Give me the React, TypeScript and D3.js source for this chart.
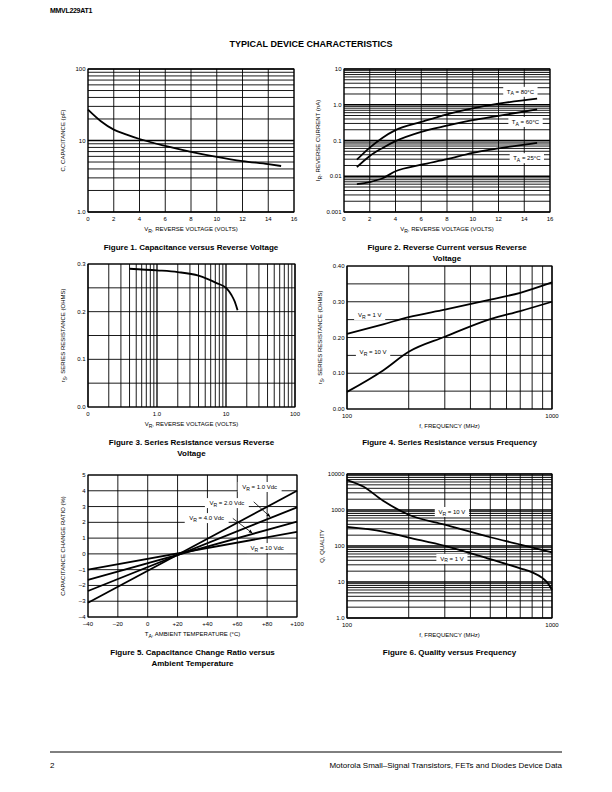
import * as d3 from 'd3';

const FONT = "'Liberation Sans', Arial, Helvetica, sans-serif";

// ---- Figure 1: capacitance vs reverse voltage
const F1_VR = [0, 1, 2, 3, 4, 6, 8, 10, 12, 14, 15];
const F1_C = [27, 18.6, 14.2, 12.1, 10.5, 8.4, 6.95, 5.9, 5.15, 4.67, 4.4];
const F1_XTICKS = [0, 2, 4, 6, 8, 10, 12, 14, 16];
const F1_YTICKS = [100, 10, 1];
const F1_YLABELS = ['100', '10', '1.0'];

// ---- Figure 2: reverse current vs reverse voltage
const F2_VR = [1, 2, 3, 4, 6, 8, 10, 12, 15];
const F2_I80 = [0.029, 0.063, 0.12, 0.195, 0.33, 0.54, 0.79, 1.07, 1.48];
const F2_I60 = [0.018, 0.037, 0.062, 0.096, 0.175, 0.26, 0.37, 0.49, 0.74];
const F2_I25 = [0.006, 0.0069, 0.0088, 0.0138, 0.021, 0.03, 0.045, 0.06, 0.086];
const F2_XTICKS = [0, 2, 4, 6, 8, 10, 12, 14, 16];
const F2_YTICKS = [10, 1, 0.1, 0.01, 0.001];
const F2_YLABELS = ['10', '1.0', '0.1', '0.01', '0.001'];

// ---- Figure 3: series resistance vs reverse voltage
const F3_VR = [0.4, 1, 2, 4, 7.3, 10.2, 12, 13.4, 14.7];
const F3_RS = [0.29, 0.2866, 0.283, 0.2755, 0.26, 0.249, 0.235, 0.221, 0.203];
const F3_XTICKS = [0.1, 1, 10, 100];
const F3_XLABELS = ['0', '1.0', '10', '100'];
const F3_YTICKS = [0.3, 0.2, 0.1, 0];
const F3_YLABELS = ['0.3', '0.2', '0.1', '0.0'];

// ---- Figure 4: series resistance vs frequency
const F4_F = [100, 150, 200, 300, 500, 700, 1000];
const F4_R1 = [0.21, 0.237, 0.257, 0.278, 0.306, 0.325, 0.354];
const F4_R10 = [0.048, 0.108, 0.16, 0.202, 0.2515, 0.274, 0.3];
const F4_XTICKS = [100, 1000];
const F4_XLABELS = ['100', '1000'];
const F4_YTICKS = [0.4, 0.3, 0.2, 0.1, 0];
const F4_YLABELS = ['0.40', '0.30', '0.20', '0.10', '0.00'];

// ---- Figure 5: capacitance change ratio vs temperature
const F5_T = [-40, 100];
const F5_1V = [-3.1, 4.0];
const F5_2V = [-2.35, 2.95];
const F5_4V = [-1.65, 2.05];
const F5_10V = [-1.0, 1.4];
const F5_XTICKS = [-40, -20, 0, 20, 40, 60, 80, 100];
const F5_XLABELS = ['–40', '–20', '0', '+20', '+40', '+60', '+80', '+100'];
const F5_YTICKS = [5, 4, 3, 2, 1, 0, -1, -2, -3, -4];
const F5_YLABELS = ['5', '4', '3', '2', '1', '0', '–1', '–2', '–3', '–4'];

// ---- Figure 6: quality vs frequency
const F6_F10 = [100, 120, 150, 200, 300, 500, 700, 1000];
const F6_Q10 = [6800, 4500, 1800, 740, 390, 175, 110, 66];
const F6_F1 = [100, 150, 200, 300, 500, 700, 800, 900, 950, 1000];
const F6_Q1 = [340, 252, 172, 101, 43, 24, 18.5, 12.8, 9.5, 6];
const F6_XTICKS = [100, 1000];
const F6_XLABELS = ['100', '1000'];
const F6_YTICKS = [10000, 1000, 100, 10, 1];
const F6_YLABELS = ['10000', '1000', '100', '10', '1.0'];

type Seg = [string, boolean?];
type Box = { x0: number; x1: number; y0: number; y1: number };
type Note = { x: number; y: number; segs: Seg[] };
type Arrow = { from: [number, number]; to: [number, number] };
type Cfg = {
  box: Box;
  xLog?: boolean;
  yLog?: boolean;
  xDomain: [number, number];
  yDomain: [number, number];
  xGrid?: number[];
  yGrid?: number[];
  xTicks: number[];
  xLabels: string[];
  yTicks: number[];
  yLabels: string[];
  series: { xs: number[]; ys: number[] }[];
  notes?: Note[];
  arrows?: Arrow[];
  xTitle: Seg[];
  yTitle: Seg[];
  yTitleX: number;
  caption: string[];
  captionY: number;
};

function Rich({ segs, ...rest }: { segs: Seg[]; [k: string]: any }) {
  let shifted = false;
  return (
    <text {...rest}>
      {segs.map(([t, sub], i) => {
        let dy = 0;
        if (sub && !shifted) { dy = 1.6; shifted = true; }
        else if (!sub && shifted) { dy = -1.6; shifted = false; }
        return (
          <tspan key={i} dy={dy || undefined} fontSize={sub ? '0.85em' : undefined}>
            {t}
          </tspan>
        );
      })}
    </text>
  );
}

const isDecade = (v: number) => Math.abs(Math.log10(v) - Math.round(Math.log10(v))) < 1e-6;

function Chart({ c }: { c: Cfg }) {
  const { box } = c;
  const x = (c.xLog ? d3.scaleLog() : d3.scaleLinear()).domain(c.xDomain).range([box.x0, box.x1]);
  const y = (c.yLog ? d3.scaleLog() : d3.scaleLinear()).domain(c.yDomain).range([box.y1, box.y0]);
  const xGrid = c.xGrid ?? (x as any).ticks();
  const yGrid = c.yGrid ?? (y as any).ticks();
  const line = d3
    .line<[number, number]>()
    .x((d) => x(d[0]))
    .y((d) => y(d[1]))
    .curve(d3.curveMonotoneX);
  const cx = (box.x0 + box.x1) / 2;
  const cy = (box.y0 + box.y1) / 2;
  return (
    <g fontFamily={FONT}>
      {xGrid.map((v: number, i: number) => (
        <line
          key={'gx' + i}
          x1={x(v)}
          x2={x(v)}
          y1={box.y0}
          y2={box.y1}
          stroke="#000"
          strokeWidth={c.xLog && isDecade(v) ? 1.3 : 0.9}
        />
      ))}
      {yGrid.map((v: number, i: number) => (
        <line
          key={'gy' + i}
          x1={box.x0}
          x2={box.x1}
          y1={y(v)}
          y2={y(v)}
          stroke="#000"
          strokeWidth={c.yLog && isDecade(v) ? 1.3 : 0.9}
        />
      ))}
      <rect x={box.x0} y={box.y0} width={box.x1 - box.x0} height={box.y1 - box.y0} fill="none" stroke="#000" strokeWidth={1} />
      {(c.notes ?? []).map((n, i) => {
        const len = n.segs.reduce((s, [t, sub]) => s + t.length * (sub ? 0.85 : 1), 0);
        const w = len * 3.2 + 6;
        return (
          <g key={'n' + i}>
            <rect x={x(n.x) - w / 2} y={y(n.y) - 5} width={w} height={10} fill="#fff" />
            <Rich segs={n.segs} x={x(n.x)} y={y(n.y) + 2} fontSize={6} textAnchor="middle" />
          </g>
        );
      })}
      {(c.arrows ?? []).map((a, i) => (
        <line
          key={'a' + i}
          x1={x(a.from[0])}
          y1={y(a.from[1])}
          x2={x(a.to[0])}
          y2={y(a.to[1])}
          stroke="#000"
          strokeWidth={0.8}
          markerEnd="url(#arrowhead)"
        />
      ))}
      {c.series.map((s, i) => (
        <path
          key={'s' + i}
          d={line(s.xs.map((v, j) => [v, s.ys[j]] as [number, number])) ?? ''}
          fill="none"
          stroke="#000"
          strokeWidth={1.8}
        />
      ))}
      {c.xTicks.map((v, i) => (
        <text key={'xt' + i} x={x(v)} y={box.y1 + 8.5} fontSize={6} textAnchor="middle">
          {c.xLabels[i]}
        </text>
      ))}
      {c.yTicks.map((v, i) => (
        <text key={'yt' + i} x={box.x0 - 2.5} y={y(v) + 2} fontSize={6} textAnchor="end">
          {c.yLabels[i]}
        </text>
      ))}
      <Rich segs={c.xTitle} x={cx} y={box.y1 + 19} fontSize={6} textAnchor="middle" />
      <Rich
        segs={c.yTitle}
        x={0}
        y={0}
        fontSize={6}
        textAnchor="middle"
        transform={`translate(${c.yTitleX},${cy}) rotate(-90)`}
      />
      {c.caption.map((t, i) => (
        <text key={'c' + i} x={cx} y={c.captionY + i * 11} fontSize={8} fontWeight="bold" textAnchor="middle">
          {t}
        </text>
      ))}
    </g>
  );
}

const VR_TITLE: Seg[] = [['V'], ['R', true], [', REVERSE VOLTAGE (VOLTS)']];
const FREQ_TITLE: Seg[] = [['f, FREQUENCY (MHz)']];
const RS_TITLE: Seg[] = [['r'], ['S', true], [', SERIES RESISTANCE (OHMS)']];

const charts: Cfg[] = [
  {
    box: { x0: 88, x1: 294, y0: 69, y1: 212 },
    yLog: true,
    xDomain: [0, 16],
    yDomain: [1, 100],
    xGrid: F1_XTICKS,
    xTicks: F1_XTICKS,
    xLabels: F1_XTICKS.map(String),
    yTicks: F1_YTICKS,
    yLabels: F1_YLABELS,
    series: [{ xs: F1_VR, ys: F1_C }],
    xTitle: VR_TITLE,
    yTitle: [['C, CAPACITANCE (pF)']],
    yTitleX: 65,
    caption: ['Figure 1. Capacitance versus Reverse Voltage'],
    captionY: 250,
  },
  {
    box: { x0: 344, x1: 550, y0: 69, y1: 212 },
    yLog: true,
    xDomain: [0, 16],
    yDomain: [0.001, 10],
    xGrid: F2_XTICKS,
    xTicks: F2_XTICKS,
    xLabels: F2_XTICKS.map(String),
    yTicks: F2_YTICKS,
    yLabels: F2_YLABELS,
    series: [
      { xs: F2_VR, ys: F2_I80 },
      { xs: F2_VR, ys: F2_I60 },
      { xs: F2_VR, ys: F2_I25 },
    ],
    notes: [
      { x: 13.7, y: 2.3, segs: [['T'], ['A', true], [' = 80°C']] },
      { x: 14.1, y: 0.33, segs: [['T'], ['A', true], [' = 60°C']] },
      { x: 14.2, y: 0.032, segs: [['T'], ['A', true], [' = 25°C']] },
    ],
    xTitle: VR_TITLE,
    yTitle: [['I'], ['R', true], [', REVERSE CURRENT (nA)']],
    yTitleX: 320,
    caption: ['Figure 2. Reverse Current versus Reverse', 'Voltage'],
    captionY: 250,
  },
  {
    box: { x0: 88, x1: 295, y0: 264, y1: 407 },
    xLog: true,
    xDomain: [0.1, 100],
    yDomain: [0, 0.3],
    yGrid: d3.range(0, 0.3001, 0.05),
    xTicks: F3_XTICKS,
    xLabels: F3_XLABELS,
    yTicks: F3_YTICKS,
    yLabels: F3_YLABELS,
    series: [{ xs: F3_VR, ys: F3_RS }],
    xTitle: VR_TITLE,
    yTitle: RS_TITLE,
    yTitleX: 65,
    caption: ['Figure 3. Series Resistance versus Reverse', 'Voltage'],
    captionY: 445,
  },
  {
    box: { x0: 347, x1: 552, y0: 266, y1: 409 },
    xLog: true,
    xDomain: [100, 1000],
    yDomain: [0, 0.4],
    yGrid: d3.range(0, 0.4001, 0.05),
    xTicks: F4_XTICKS,
    xLabels: F4_XLABELS,
    yTicks: F4_YTICKS,
    yLabels: F4_YLABELS,
    series: [
      { xs: F4_F, ys: F4_R1 },
      { xs: F4_F, ys: F4_R10 },
    ],
    notes: [
      { x: 129, y: 0.263, segs: [['V'], ['R', true], [' = 1 V']] },
      { x: 134, y: 0.159, segs: [['V'], ['R', true], [' = 10 V']] },
    ],
    xTitle: FREQ_TITLE,
    yTitle: RS_TITLE,
    yTitleX: 322,
    caption: ['Figure 4. Series Resistance versus Frequency'],
    captionY: 445,
  },
  {
    box: { x0: 88, x1: 297, y0: 475, y1: 617 },
    xDomain: [-40, 100],
    yDomain: [-4, 5],
    xGrid: F5_XTICKS,
    yGrid: F5_YTICKS,
    xTicks: F5_XTICKS,
    xLabels: F5_XLABELS,
    yTicks: F5_YTICKS,
    yLabels: F5_YLABELS,
    series: [
      { xs: F5_T, ys: F5_1V },
      { xs: F5_T, ys: F5_2V },
      { xs: F5_T, ys: F5_4V },
      { xs: F5_T, ys: F5_10V },
    ],
    notes: [
      { x: 75, y: 4.24, segs: [['V'], ['R', true], [' = 1.0 Vdc']] },
      { x: 53, y: 3.22, segs: [['V'], ['R', true], [' = 2.0 Vdc']] },
      { x: 39.5, y: 2.27, segs: [['V'], ['R', true], [' = 4.0 Vdc']] },
      { x: 80, y: 0.37, segs: [['V'], ['R', true], [' = 10 Vdc']] },
    ],
    arrows: [
      { from: [71, 3.3], to: [82, 2.35] },
      { from: [57, 2.25], to: [70, 1.32] },
    ],
    xTitle: [['T'], ['A', true], [', AMBIENT TEMPERATURE (°C)']],
    yTitle: [['CAPACITANCE CHANGE RATIO (%)']],
    yTitleX: 65,
    caption: ['Figure 5. Capacitance Change Ratio versus', 'Ambient Temperature'],
    captionY: 655,
  },
  {
    box: { x0: 347, x1: 552, y0: 474, y1: 618 },
    xLog: true,
    yLog: true,
    xDomain: [100, 1000],
    yDomain: [1, 10000],
    xTicks: F6_XTICKS,
    xLabels: F6_XLABELS,
    yTicks: F6_YTICKS,
    yLabels: F6_YLABELS,
    series: [
      { xs: F6_F10, ys: F6_Q10 },
      { xs: F6_F1, ys: F6_Q1 },
    ],
    notes: [
      { x: 325, y: 880, segs: [['V'], ['R', true], [' = 10 V']] },
      { x: 325, y: 44, segs: [['V'], ['R', true], [' = 1 V']] },
    ],
    xTitle: FREQ_TITLE,
    yTitle: [['Q, QUALITY']],
    yTitleX: 324,
    caption: ['Figure 6. Quality versus Frequency'],
    captionY: 655,
  },
];

export default function App() {
  return (
    <div style={{ position: 'absolute', left: 0, top: 0 }}>
      <svg width={612} height={792} style={{ display: 'block', background: '#fff' }}>
        <defs>
          <marker id="arrowhead" viewBox="0 0 10 10" refX={9} refY={5} markerWidth={5} markerHeight={5} orient="auto">
            <path d="M0,1 L10,5 L0,9 z" fill="#000" />
          </marker>
        </defs>
        <text x={50} y={13} fontFamily={FONT} fontSize={7} fontWeight="bold" letterSpacing={-0.3}>
          MMVL229AT1
        </text>
        <text x={311} y={47} fontFamily={FONT} fontSize={9} fontWeight="bold" textAnchor="middle">
          TYPICAL DEVICE CHARACTERISTICS
        </text>
        {charts.map((c, i) => (
          <Chart key={i} c={c} />
        ))}
        <line x1={50} x2={562} y1={752} y2={752} stroke="#000" strokeWidth={1} />
        <text x={50} y={768} fontFamily={FONT} fontSize={8}>
          2
        </text>
        <text x={562} y={768} fontFamily={FONT} fontSize={8} textAnchor="end">
          Motorola Small–Signal Transistors, FETs and Diodes Device Data
        </text>
      </svg>
    </div>
  );
}
